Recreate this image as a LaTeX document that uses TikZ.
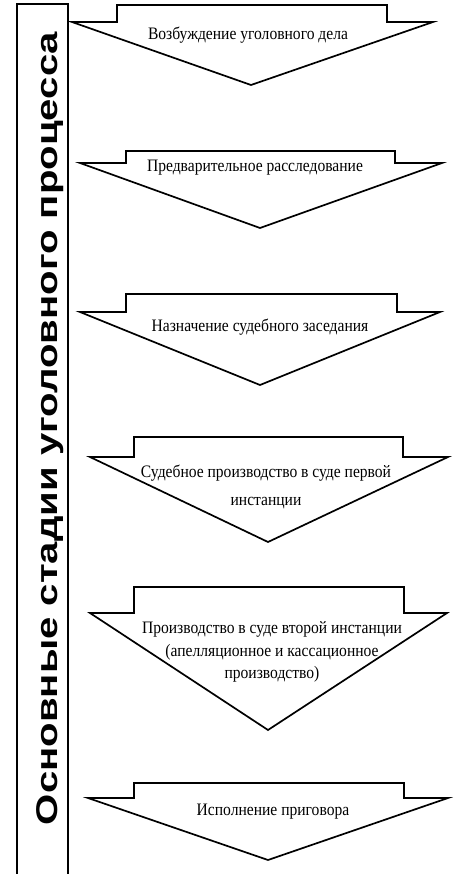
\documentclass[tikz,border=0pt]{standalone}
\usepackage{fontspec}
\setmainfont{Liberation Serif}
\newfontfamily\stagefont[FakeStretch=0.89]{Liberation Serif}
\newfontfamily\titlefont{Liberation Sans}
\tikzset{
  stageshape/.style={draw=black, line width=1.7pt, line join=miter, fill=white},
  stagetext/.style={font=\stagefont\fontsize{17.5}{20}\selectfont, inner sep=0pt, align=center, anchor=center},
  titlebox/.style={draw=black, line width=1.7pt}
}
% #1 top, #2 shoulder, #3 tip y, #4 rect left, #5 rect right, #6 wing left, #7 wing right, #8 tip x
\newcommand\stagearrow[8]{%
  \draw[stageshape] (#4,#1) -- (#5,#1) -- (#5,#2) -- (#7,#2) -- (#8,#3) -- (#6,#2) -- (#4,#2) -- cycle;}
\begin{document}
\begin{tikzpicture}[x=1pt,y=-1pt]
\useasboundingbox (0,0) rectangle (456,874);
% title column
\draw[titlebox] (17,876) -- (17,4) -- (68,4) -- (68,876);
\node[rotate=90, anchor=base, inner sep=0pt, font=\titlefont\bfseries\fontsize{30}{30}\selectfont] (title) at (57,428.5)
  {\resizebox{793pt}{\height}{Основные стадии уголовного процесса}};
% arrows
\stagearrow{5}{22}{85}{117}{387}{72}{433}{251}
\stagearrow{151}{163}{228}{126}{395}{80}{442}{260}
\stagearrow{294}{312}{385}{126}{397}{80}{440}{260}
\stagearrow{437}{457}{542}{134}{403}{90}{448}{268}
\stagearrow{587}{613}{730}{134}{404}{90}{447}{268}
\stagearrow{783}{798}{860}{134}{404}{88}{448}{268}
% texts
\node[stagetext] (s1) at (248,35) {Возбуждение уголовного дела};
\node[stagetext] (s2) at (255,168) {Предварительное расследование};
\node[stagetext] (s3) at (260,327) {Назначение судебного заседания};
\node[stagetext, font=\stagefont\fontsize{17.5}{28}\selectfont] (s4) at (266,487) {Судебное производство в суде первой\\инстанции};
\node[stagetext, font=\stagefont\fontsize{17.5}{22.5}\selectfont] (s5) at (272,652) {Производство в суде второй инстанции\\(апелляционное и кассационное\\производство)};
\node[stagetext] (s6) at (273,812) {Исполнение приговора};
\end{tikzpicture}
\end{document}
